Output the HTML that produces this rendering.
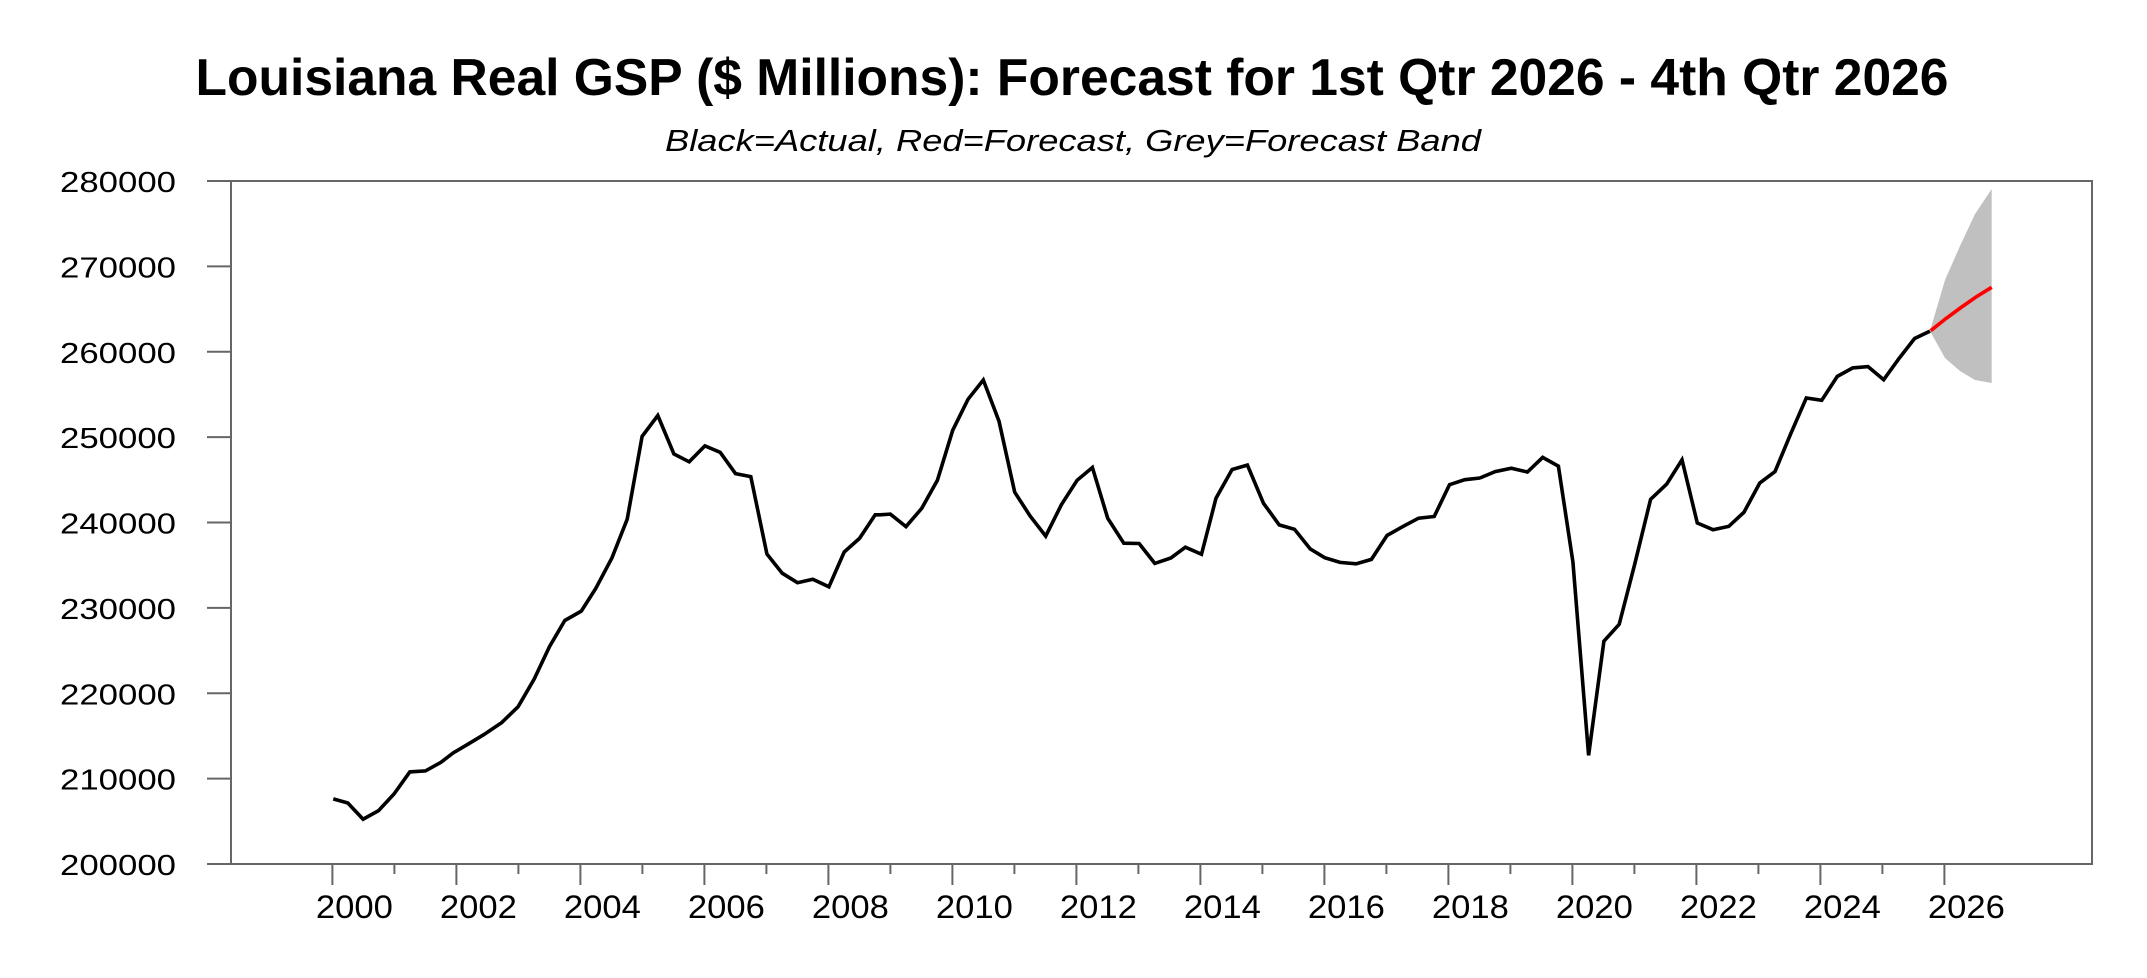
<!DOCTYPE html>
<html><head><meta charset="utf-8"><style>
html,body{margin:0;padding:0;background:#fff;}
svg{display:block;}
text{font-family:"Liberation Sans",Arial,sans-serif;fill:#000;}
</style></head><body>
<svg id="s" width="2147" height="978" viewBox="0 0 2147 978" xmlns="http://www.w3.org/2000/svg">
<rect width="2147" height="978" fill="#fff"/>
<text x="1072" y="95" font-size="52" font-weight="bold" text-anchor="middle" textLength="1753" lengthAdjust="spacingAndGlyphs">Louisiana Real GSP ($ Millions): Forecast for 1st Qtr 2026 - 4th Qtr 2026</text>
<text x="1073" y="151" font-size="31" font-style="italic" text-anchor="middle" textLength="816" lengthAdjust="spacingAndGlyphs">Black=Actual, Red=Forecast, Grey=Forecast Band</text>
<g id="ax"></g>
<polygon id="band" fill="#c0c0c0" points="1930,331 1945,280 1960,246 1975,214 1991.7,189 1991.7,383 1975,380 1960,371 1945,358"/>
<polyline id="act" fill="none" stroke="#000" stroke-width="3.6" stroke-linejoin="miter"/>
<polyline fill="none" stroke="#f00" stroke-width="3.6" points="1930.7,330.7 1946,318.5 1961,307.5 1976,297 1991.7,287.3"/>
</svg>
<script>
var NS="http://www.w3.org/2000/svg",ax=document.getElementById('ax');
function el(t,a,txt){var e=document.createElementNS(NS,t);for(var k in a)e.setAttribute(k,a[k]);if(txt)e.textContent=txt;ax.appendChild(e);return e;}
el('path',{d:'M231,181 H2092 V864 H231 Z',fill:'none',stroke:'#666','stroke-width':2});
el('line',{x1:207,x2:231,y1:864,y2:864,stroke:'#666','stroke-width':2});
for(var i=0;i<=8;i++){var y=181+i*85.375;var v=280000-i*10000;
 el('line',{x1:207,x2:231,y1:y,y2:y,stroke:'#666','stroke-width':2});
 el('text',{x:176,y:y+11,'font-size':29,'text-anchor':'end',textLength:116,lengthAdjust:'spacingAndGlyphs'},String(v));}
for(var yr=2000;yr<=2026;yr++){var x=332.4+(yr-2000)*62;var maj=(yr%2==0);
 el('line',{x1:x,x2:x,y1:864,y2:maj?885:874,stroke:'#666','stroke-width':2});
 if(maj)el('text',{x:x+22,y:918,'font-size':32,'text-anchor':'middle',textLength:77,lengthAdjust:'spacingAndGlyphs'},String(yr));}
var pts=[];
function add(x0,y0,sx,sy,arr){for(var i=0;i<arr.length;i+=2)pts.push((x0+arr[i]/sx).toFixed(1)+','+(y0+arr[i+1]/sy).toFixed(1));}
add(300,330,2.613,2.96,[87,1388,125,1400,165,1448,205,1423,246,1373,287,1308,328,1305,368,1280,400,1252,440,1225,480,1198,527,1162,570,1115,612,1033,652,937,692,860,735,832,773,765,815,675,855,560,894,315,935,253,977,367,1017,390,1058,343,1098,362,1138,425,1178,434,1220,663,1260,720,1300,748,1340,738,1382,760,1422,657,1462,617,1503,547]);
add(880,330,2.613,2.96,[0,547,27,545,68,582,109,528,150,445,190,297,230,205,270,148,311,270,352,480,392,550,433,610,474,517,515,445,555,407,595,557,637,631,677,632,718,691,760,675,798,643,840,664,878,498,920,413,960,400,1002,513,1043,577,1083,590,1124,648,1162,674,1202,688,1244,692,1284,679,1325,608,1366,582,1407,557,1448,552,1488,458,1528,443,1568,438]);
add(1460,300,2.613,2.96,[52,527,92,508,134,498,176,509,216,466,257,492,295,775,336,1348,376,1010,416,960,457,780,498,590,540,545,580,473,620,660,661,680,702,670,742,628,783,542,823,508,864,396,905,290,945,297,986,226,1026,201,1066,197,1107,236,1148,172,1188,114,1228,92]);
document.getElementById('act').setAttribute('points',pts.join(' '));
</script>
</body></html>
